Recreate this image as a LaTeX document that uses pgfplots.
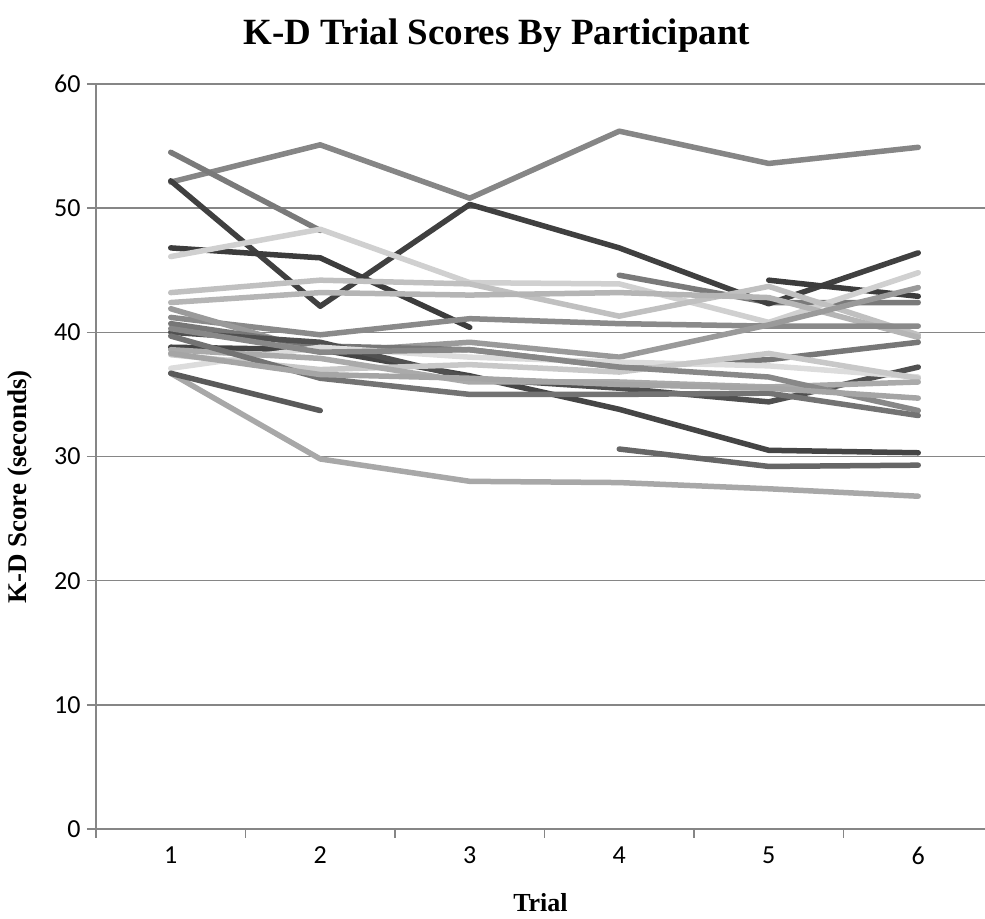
\documentclass[border=0pt]{standalone}
\usepackage{fontspec}
\setmainfont{Liberation Serif}
\newfontfamily\carlito{Carlito}
\usepackage{pgfplots}
\pgfplotsset{compat=1.18}
\definecolor{gridc}{HTML}{868686}
\begin{document}
\begin{tikzpicture}
\begin{axis}[
  scale only axis,
  width=897pt, height=745pt,
  xmin=0.5, xmax=6.5, ymin=0, ymax=60,
  axis lines*=left,
  axis line style={gridc, line width=1.5pt},
  xtick={1,...,6},
  major x tick style={draw=none},
  minor xtick={0.5,1.5,...,6.5},
  minor x tick style={gridc, line width=1.5pt},
  minor tick length=9pt,
  ytick={0,10,...,60},
  major tick length=9pt,
  y tick style={gridc, line width=1.5pt},
  tick align=outside,
  ymajorgrids,
  grid style={gridc, line width=1.5pt},
  /pgf/number format/assume math mode=true,
  ticklabel style={font=\carlito\fontsize{26}{28}\selectfont},
  yticklabel style={xshift=-3pt},
  xticklabel style={yshift=-5pt},
  xlabel={\textbf{Trial}},
  ylabel={\textbf{K-D Score (seconds)}},
  xlabel style={font=\fontsize{26}{28}\selectfont, at={(axis description cs:0.4955,-0.0993)}, anchor=center},
  ylabel style={font=\fontsize{27}{29}\selectfont, at={(axis description cs:-0.085,0.459)}, anchor=center},
  unbounded coords=jump,
  every axis plot/.append style={line width=5.5pt, line cap=round, line join=round, mark=none},
  clip=false,
]
\addplot[color={rgb,255:red,134;green,134;blue,134}] coordinates {(1,52.1)(2,55.1)(3,50.8)(4,56.2)(5,53.6)(6,54.9)};
\addplot[color={rgb,255:red,122;green,122;blue,122}] coordinates {(1,54.5)(2,48.2)(3,nan)(4,44.6)(5,42.4)(6,42.4)};
\addplot[color={rgb,255:red,64;green,64;blue,64}] coordinates {(1,52.2)(2,42.1)(3,50.3)(4,46.8)(5,42.3)(6,46.4)};
\addplot[color={rgb,255:red,60;green,60;blue,60}] coordinates {(1,46.8)(2,46.0)(3,40.4)(4,nan)(5,44.2)(6,42.9)};
\addplot[color={rgb,255:red,208;green,208;blue,208}] coordinates {(1,46.1)(2,48.3)(3,44.0)(4,43.9)(5,40.8)(6,44.8)};
\addplot[color={rgb,255:red,192;green,192;blue,192}] coordinates {(1,43.2)(2,44.2)(3,43.9)(4,41.3)(5,43.7)(6,39.8)};
\addplot[color={rgb,255:red,181;green,181;blue,181}] coordinates {(1,42.4)(2,43.2)(3,43.0)(4,43.2)(5,42.8)(6,39.6)};
\addplot[color={rgb,255:red,138;green,138;blue,138}] coordinates {(1,41.2)(2,39.8)(3,41.1)(4,40.7)(5,40.5)(6,40.5)};
\addplot[color={rgb,255:red,154;green,154;blue,154}] coordinates {(1,41.9)(2,38.4)(3,39.2)(4,38.0)(5,40.6)(6,43.6)};
\addplot[color={rgb,255:red,119;green,119;blue,119}] coordinates {(1,40.7)(2,38.9)(3,38.6)(4,37.2)(5,37.8)(6,39.2)};
\addplot[color={rgb,255:red,69;green,69;blue,69}] coordinates {(1,38.8)(2,38.6)(3,36.5)(4,33.8)(5,30.5)(6,30.3)};
\addplot[color={rgb,255:red,80;green,80;blue,80}] coordinates {(1,40.0)(2,39.2)(3,36.3)(4,35.5)(5,34.4)(6,37.2)};
\addplot[color={rgb,255:red,220;green,220;blue,220}] coordinates {(1,37.1)(2,38.8)(3,38.0)(4,37.6)(5,37.3)(6,36.4)};
\addplot[color={rgb,255:red,200;green,200;blue,200}] coordinates {(1,38.2)(2,37.0)(3,37.4)(4,36.8)(5,38.3)(6,36.3)};
\addplot[color={rgb,255:red,170;green,170;blue,170}] coordinates {(1,38.6)(2,37.9)(3,36.0)(4,36.0)(5,35.6)(6,36.0)};
\addplot[color={rgb,255:red,136;green,136;blue,136}] coordinates {(1,40.3)(2,38.4)(3,38.6)(4,37.2)(5,36.4)(6,33.7)};
\addplot[color={rgb,255:red,115;green,115;blue,115}] coordinates {(1,39.7)(2,36.3)(3,35.0)(4,35.0)(5,35.1)(6,33.3)};
\addplot[color={rgb,255:red,165;green,165;blue,165}] coordinates {(1,38.3)(2,36.6)(3,36.3)(4,35.8)(5,35.5)(6,34.7)};
\addplot[color={rgb,255:red,168;green,168;blue,168}] coordinates {(1,36.7)(2,29.8)(3,28.0)(4,27.9)(5,27.4)(6,26.8)};
\addplot[color={rgb,255:red,90;green,90;blue,90}] coordinates {(1,36.7)(2,33.7)};
\addplot[color={rgb,255:red,102;green,102;blue,102}] coordinates {(4,30.6)(5,29.2)(6,29.3)};
\end{axis}
\node[font=\bfseries\fontsize{37}{40}\selectfont] at ([xshift=401pt,yshift=48pt]current axis.north west) {K-D Trial Scores By Participant};
\pgfresetboundingbox
\path[use as bounding box] ([xshift=-96pt,yshift=-90pt]current axis.south west) rectangle ([xshift=-8pt,yshift=84pt]current axis.north east);
\end{tikzpicture}
\end{document}
